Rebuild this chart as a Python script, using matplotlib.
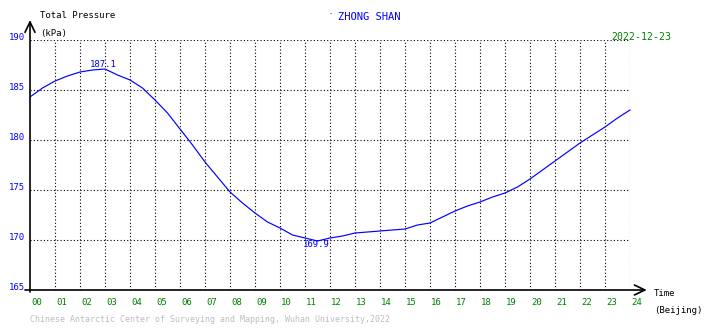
import numpy as np
import matplotlib
matplotlib.use("Agg")
import matplotlib.pyplot as plt

# hour of day (Beijing) and total pressure readings (kPa)
hours = [0.0, 0.5, 1.0, 1.5, 2.0, 2.5, 3.0, 3.5, 4.0, 4.5, 5.0, 5.5, 6.0,
         6.5, 7.0, 7.5, 8.0, 8.5, 9.0, 9.5, 10.0, 10.5, 11.0, 11.5, 12.0,
         12.5, 13.0, 13.5, 14.0, 14.5, 15.0, 15.5, 16.0, 16.5, 17.0, 17.5,
         18.0, 18.5, 19.0, 19.5, 20.0, 20.5, 21.0, 21.5, 22.0, 22.5, 23.0,
         23.5, 24.0]
pressure = [184.3, 185.2, 185.9, 186.4, 186.8, 187.0, 187.1, 186.5, 186.0,
            185.2, 184.0, 182.7, 181.1, 179.5, 177.8, 176.3, 174.8, 173.7,
            172.7, 171.8, 171.2, 170.5, 170.2, 169.9, 170.2, 170.4, 170.7,
            170.8, 170.9, 171.0, 171.1, 171.5, 171.7, 172.3, 172.9, 173.4,
            173.8, 174.3, 174.7, 175.3, 176.1, 177.0, 177.9, 178.8, 179.7,
            180.5, 181.3, 182.2, 183.0]
xtick_labels = ["%02d" % h for h in range(25)]
yticks = [165, 170, 175, 180, 185, 190]

station = "ZHONG SHAN"
date = "2022-12-23"
credit = "Chinese Antarctic Center of Surveying and Mapping, Wuhan University,2022"

W, H = 710, 328
BLUE = "#0000ff"
GREEN = "#008000"
MONO = ["DejaVu Sans Mono"]

fig = plt.figure(figsize=(W / 100, H / 100), dpi=100)
fig.patch.set_facecolor("white")
ax = fig.add_axes([30 / W, 1 - 290 / H, 600 / W, 250 / H])
ax.set_xlim(0, 24)
ax.set_ylim(165, 190)
for s in ax.spines.values():
    s.set_visible(False)
ax.set_xticks([])
ax.set_yticks([])

# dotted grid
dot = dict(color="black", lw=0.8, linestyle=(0, (1, 2)))
for h in range(1, 25):
    ax.plot([h, h], [165, 190], **dot)
for v in yticks[1:]:
    ax.plot([0, 24], [v, v], **dot)

# axes with arrows
arrow = dict(arrowstyle="->,head_length=0.75,head_width=0.36", lw=1.2,
             color="black", shrinkA=0, shrinkB=0)
ax.annotate("", xy=(0, 192), xytext=(0, 164.8), arrowprops=arrow,
            annotation_clip=False)
ax.annotate("", xy=(24.67, 165), xytext=(-0.2, 165), arrowprops=arrow,
            annotation_clip=False)

ax.plot(hours, pressure, color=BLUE, lw=0.85, clip_on=False)

# max/min labels
imax = int(np.argmax(pressure))
imin = int(np.argmin(pressure))
ax.text(hours[imax] - 0.05, pressure[imax] + 0.5, "%.1f" % pressure[imax],
        color=BLUE, fontsize=6.5, family=MONO, ha="center", va="center")
ax.text(hours[imin] - 0.05, pressure[imin] - 0.3, "%.1f" % pressure[imin],
        color=BLUE, fontsize=6.5, family=MONO, ha="center", va="center")

# tick labels
for h, lab in enumerate(xtick_labels):
    fig.text((31 + 25 * h) / W, 1 - 302.5 / H, lab, color=GREEN,
             fontsize=6.5, family=MONO, ha="left", va="center")
for v in yticks:
    py = 290 - (v - 165) * 10 - 2.5
    fig.text(24.5 / W, 1 - py / H, str(v), color=BLUE, fontsize=6.5,
             family=MONO, ha="right", va="center")

# titles and notes
fig.text(40 / W, 1 - 16 / H, "Total Pressure", color="black", fontsize=6.5,
         family=MONO, va="center")
fig.text(40 / W, 1 - 33.5 / H, "(kPa)", color="black", fontsize=6.5,
         family=MONO, va="center")
fig.text(330 / W, 1 - 15 / H, "\u00b7", color=BLUE, fontsize=5,
         family=MONO, ha="center", va="center")
fig.text(369 / W, 1 - 17 / H, station, color=BLUE, fontsize=7.5,
         family=MONO, ha="center", va="center")
fig.text(611 / W, 1 - 37 / H, date, color=GREEN, fontsize=7.1,
         family=MONO, va="center")
fig.text(654 / W, 1 - 294 / H, "Time", color="black", fontsize=6.5,
         family=MONO, va="center")
fig.text(654 / W, 1 - 310.5 / H, "(Beijing)", color="black", fontsize=6.5,
         family=MONO, va="center")
fig.text(30 / W, 1 - 320 / H, credit, color="#bdbdbd", fontsize=5.95,
         family=MONO, va="center")

fig.savefig("out.png", dpi=100, facecolor="white")
